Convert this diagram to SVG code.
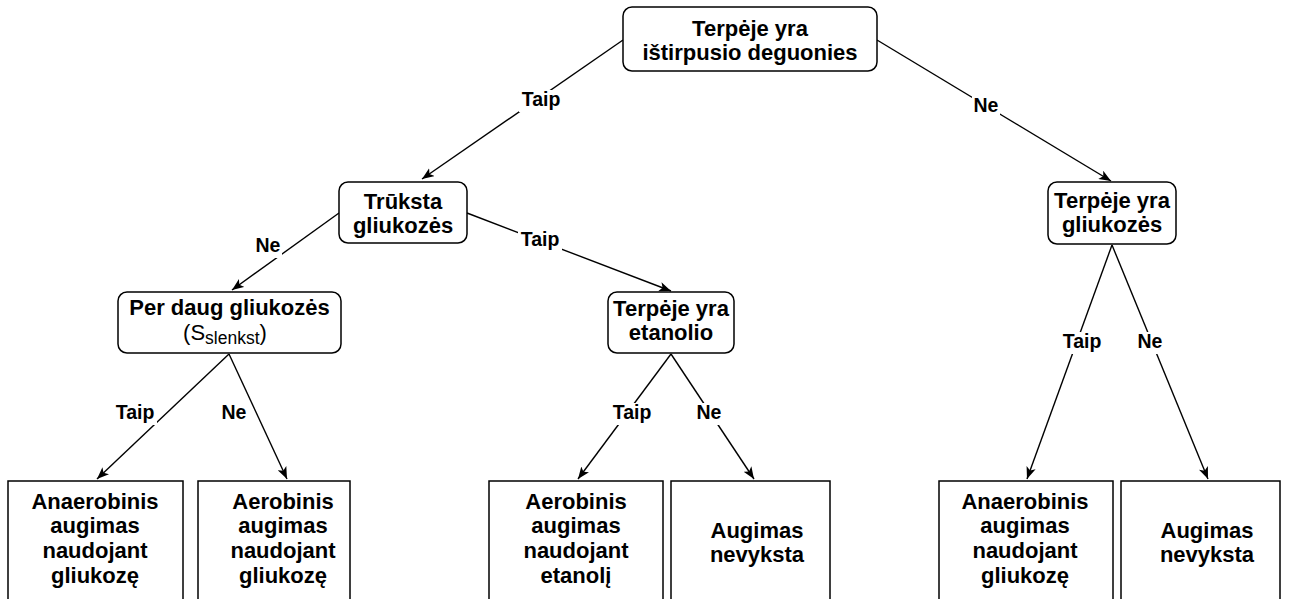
<svg xmlns="http://www.w3.org/2000/svg" width="1302" height="599" viewBox="0 0 1302 599">
<defs>
<marker id="arr" viewBox="0 0 10 8" refX="10" refY="4" markerWidth="12" markerHeight="10" markerUnits="userSpaceOnUse" orient="auto">
<path d="M0,0 L10,4 L0,8 L2.5,4 z" fill="#000"/>
</marker>
<style>
.n{fill:#fff;stroke:#000;stroke-width:1.5}
.t{font-family:"Liberation Sans",Arial,sans-serif;font-weight:bold;font-size:22px;text-anchor:middle;fill:#000}
.r{font-weight:normal}
.l{font-family:"Liberation Sans",Arial,sans-serif;font-weight:bold;font-size:19.5px;text-anchor:middle;fill:#000}
.e{stroke:#000;stroke-width:1.4;fill:none;marker-end:url(#arr)}
.bg{fill:#fff}
</style>
</defs>
<rect width="1302" height="599" fill="#fff"/>
<g id="connectors">
<path class="e" d="M623,40 L422,179"/>
<path class="e" d="M877,40 L1111,181"/>
<path class="e" d="M339,213 L232,290"/>
<path class="e" d="M467,213 L671,291"/>
<path class="e" d="M229,354 L97,479"/>
<path class="e" d="M229,354 L287,479"/>
<path class="e" d="M671,354 L578,479"/>
<path class="e" d="M671,354 L754,479"/>
<path class="e" d="M1112,245 L1027,479"/>
<path class="e" d="M1112,245 L1208,479"/>
<g id="labels">
<rect class="bg" x="519" y="90" width="44" height="22"/><text class="l" x="541" y="106">Taip</text>
<rect class="bg" x="972" y="96" width="28" height="22"/><text class="l" x="986" y="112">Ne</text>
<rect class="bg" x="254" y="236" width="28" height="22"/><text class="l" x="268" y="252">Ne</text>
<rect class="bg" x="518" y="230" width="44" height="22"/><text class="l" x="540" y="246">Taip</text>
<rect class="bg" x="113" y="403" width="44" height="22"/><text class="l" x="135" y="419">Taip</text>
<rect class="bg" x="220" y="403" width="28" height="22"/><text class="l" x="234" y="419">Ne</text>
<rect class="bg" x="610" y="403" width="44" height="22"/><text class="l" x="632" y="419">Taip</text>
<rect class="bg" x="695" y="403" width="28" height="22"/><text class="l" x="709" y="419">Ne</text>
<rect class="bg" x="1060" y="332" width="44" height="22"/><text class="l" x="1082" y="348">Taip</text>
<rect class="bg" x="1136" y="332" width="28" height="22"/><text class="l" x="1150" y="348">Ne</text>
</g>
</g>
<g id="n-root">
<rect class="n" x="623" y="7" width="254" height="64" rx="9"/>
<text class="t" x="750" y="36">Terpėje yra</text>
<text class="t" x="750" y="60">ištirpusio deguonies</text>
</g>
<g id="n-truksta">
<rect class="n" x="339" y="182" width="128" height="61" rx="9"/>
<text class="t" x="403" y="209">Trūksta</text>
<text class="t" x="403" y="233">gliukozės</text>
</g>
<g id="n-perdaug">
<rect class="n" x="118" y="292" width="223" height="61" rx="9"/>
<text class="t" x="229.5" y="315">Per daug gliukozės</text>
<text class="t r" x="225" y="340">(S<tspan font-size="17.5" dy="4">slenkst</tspan><tspan dy="-4">)</tspan></text>
</g>
<g id="n-etanolio">
<rect class="n" x="608" y="292" width="126" height="61" rx="9"/>
<text class="t" x="671" y="316">Terpėje yra</text>
<text class="t" x="671" y="340">etanolio</text>
</g>
<g id="n-gliukozes">
<rect class="n" x="1048" y="182" width="128" height="62" rx="9"/>
<text class="t" x="1112" y="208">Terpėje yra</text>
<text class="t" x="1112" y="232">gliukozės</text>
</g>
<g id="b1">
<rect class="n" x="8" y="481" width="175" height="130"/>
<text class="t" x="95" y="509">Anaerobinis</text>
<text class="t" x="95" y="533">augimas</text>
<text class="t" x="95" y="558">naudojant</text>
<text class="t" x="95" y="583">gliukozę</text>
</g>
<g id="b2">
<rect class="n" x="198" y="481" width="152" height="130"/>
<text class="t" x="283" y="509">Aerobinis</text>
<text class="t" x="283" y="533">augimas</text>
<text class="t" x="283" y="558">naudojant</text>
<text class="t" x="283" y="583">gliukozę</text>
</g>
<g id="b3">
<rect class="n" x="489" y="481" width="174" height="130"/>
<text class="t" x="576" y="509">Aerobinis</text>
<text class="t" x="576" y="533">augimas</text>
<text class="t" x="576" y="558">naudojant</text>
<text class="t" x="576" y="583">etanolį</text>
</g>
<g id="b4">
<rect class="n" x="671" y="481" width="159" height="130"/>
<text class="t" x="757" y="538">Augimas</text>
<text class="t" x="757" y="562">nevyksta</text>
</g>
<g id="b5">
<rect class="n" x="939" y="481" width="174" height="130"/>
<text class="t" x="1025" y="509">Anaerobinis</text>
<text class="t" x="1025" y="533">augimas</text>
<text class="t" x="1025" y="558">naudojant</text>
<text class="t" x="1025" y="583">gliukozę</text>
</g>
<g id="b6">
<rect class="n" x="1121" y="481" width="159" height="130"/>
<text class="t" x="1207" y="538">Augimas</text>
<text class="t" x="1207" y="562">nevyksta</text>
</g>
</svg>
